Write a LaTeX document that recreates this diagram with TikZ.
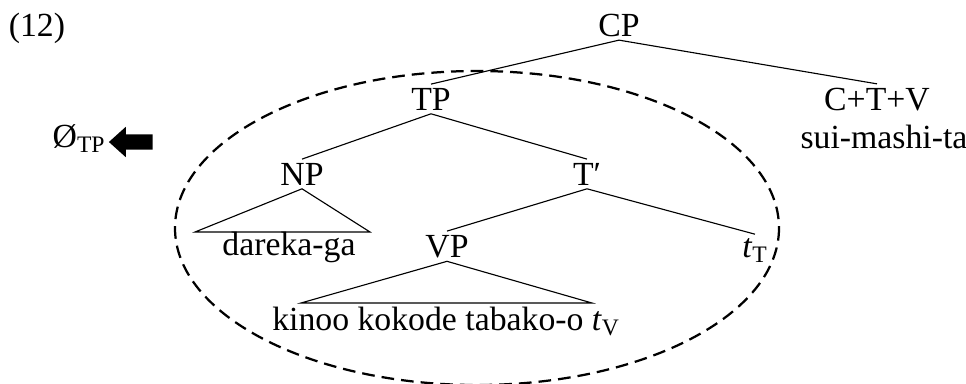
\documentclass[tikz,border=0pt]{standalone}
\usepackage{fontspec}
\setmainfont{Liberation Serif}
\usetikzlibrary{shapes,arrows}

\begin{document}
\begin{tikzpicture}[x=0.025cm,y=-0.025cm,
  cat/.style={anchor=base,inner sep=2.5pt,font=\fontsize{24}{28}\selectfont},
  branch/.style={line width=0.8pt},
  ring/.style={dash pattern=on 9pt off 5pt,line width=1.6pt}]
\useasboundingbox (0,0) rectangle (966,383);

\node[cat] (num) at (37,36) {(12)};
\node[cat] (cp) at (619,36) {CP};
\node[cat] (tp) at (431,110) {TP};
\node[cat] (ctv) at (877,110) {C+T+V};
\node[cat] (verb) at (884,148) {sui-mashi-ta};
\node[cat] (np) at (302,185) {NP};
\node[cat] (tbar) at (587,185) {T′};
\node[cat] (vp) at (447,257) {VP};
\node[cat] (tt) at (755,257) {\textit{t}\textsubscript{T}};
\node[cat] (dareka) at (289,255) {dareka-ga};
\node[cat] (kinoo) at (446,330) {kinoo kokode tabako-o \textit{t}\textsubscript{V}};
\node[cat] (null) at (79,147) {Ø\textsubscript{TP}};
\node[single arrow,fill=black,shape border rotate=180,text height=0pt,text depth=0pt,
  inner xsep=0pt,inner ysep=5.3pt,minimum height=31pt,single arrow head extend=5.3pt,
  single arrow tip angle=84] (move) at (135,142) {};

\coordinate (np-l) at (195,232);
\coordinate (np-r) at (370,232);
\coordinate (vp-l) at (301,303);
\coordinate (vp-r) at (592,303);

\draw[branch] (cp.south) -- (tp.north);
\draw[branch] (cp.south) -- (ctv.north);
\draw[branch] (tp.south) -- (np.north);
\draw[branch] (tp.south) -- (tbar.north);
\draw[branch] (tbar.south) -- (vp.north);
\draw[branch] (tbar.south) -- (tt.north);
\draw[branch] (np.south) -- (np-l) -- (np-r) -- cycle;
\draw[branch] (vp.south) -- (vp-l) -- (vp-r) -- cycle;

% the moved constituent
\draw[ring] (477,228) ellipse [x radius=302,y radius=157];
\end{tikzpicture}
\end{document}
